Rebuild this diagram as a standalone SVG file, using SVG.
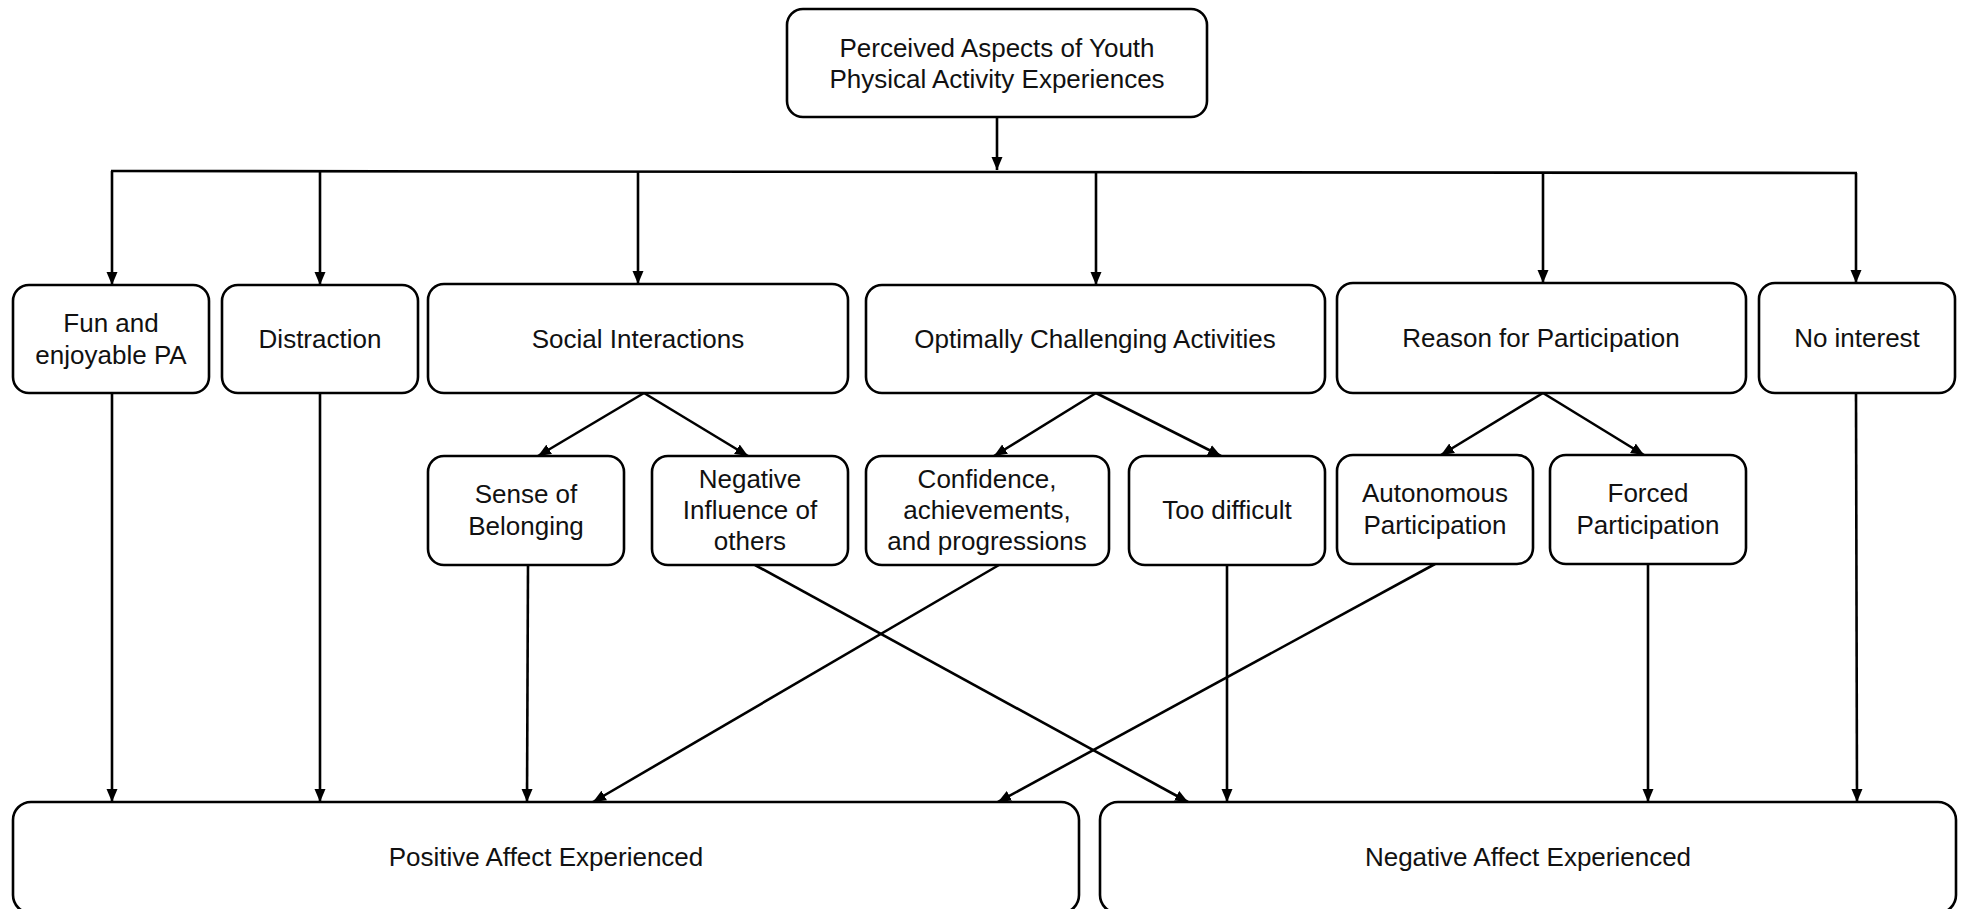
<svg xmlns="http://www.w3.org/2000/svg" width="1963" height="909" viewBox="0 0 1963 909">
<defs>
<marker id="ah" markerUnits="userSpaceOnUse" markerWidth="14" markerHeight="12" refX="13" refY="6" orient="auto">
<path d="M0,0.5 L13,6 L0,11.5 z" fill="#000"/>
</marker>
<style>
.box{fill:#fff;stroke:#000;stroke-width:2.6}
.t{font-family:"Liberation Sans",Arial,sans-serif;font-size:26px;fill:#111;text-anchor:middle}
.c{stroke:#000;stroke-width:2.6;fill:none}
.a{stroke:#000;stroke-width:2.6;fill:none;marker-end:url(#ah)}
</style>
</defs>
<rect width="1963" height="909" fill="#fff"/>
<g id="connectors">
<line class="a" x1="997" y1="117" x2="997" y2="170"/>
<line class="c" x1="111" y1="171" x2="1857" y2="173"/>
<line class="a" x1="112" y1="171" x2="112" y2="285"/>
<line class="a" x1="320" y1="171" x2="320" y2="285"/>
<line class="a" x1="638" y1="172" x2="638" y2="284"/>
<line class="a" x1="1096" y1="172" x2="1096" y2="285"/>
<line class="a" x1="1543" y1="173" x2="1543" y2="283"/>
<line class="a" x1="1856" y1="173" x2="1856" y2="283"/>
<line class="a" x1="644" y1="393" x2="538" y2="456"/>
<line class="a" x1="644" y1="393" x2="748" y2="456"/>
<line class="a" x1="1096" y1="393" x2="994" y2="456"/>
<line class="a" x1="1096" y1="393" x2="1221" y2="456"/>
<line class="a" x1="1543" y1="393" x2="1441" y2="455"/>
<line class="a" x1="1543" y1="393" x2="1644" y2="455"/>
<line class="a" x1="112" y1="393" x2="112" y2="802"/>
<line class="a" x1="320" y1="393" x2="320" y2="802"/>
<line class="a" x1="528" y1="565" x2="527" y2="802"/>
<line class="a" x1="1227" y1="565" x2="1227" y2="802"/>
<line class="a" x1="1648" y1="564" x2="1648" y2="802"/>
<line class="a" x1="1856" y1="393" x2="1857" y2="802"/>
<line class="a" x1="755" y1="565" x2="1188" y2="802"/>
<line class="a" x1="999" y1="565" x2="593" y2="802"/>
<line class="a" x1="1435" y1="564" x2="998" y2="802"/>
</g>
<g id="n-top"><rect class="box" x="787" y="9" width="420" height="108" rx="16"/><text class="t" x="997" y="57">Perceived Aspects of Youth</text><text class="t" x="997" y="88">Physical Activity Experiences</text></g>
<g id="n-fun"><rect class="box" x="13" y="285" width="196" height="108" rx="16"/><text class="t" x="111" y="332">Fun and</text><text class="t" x="111" y="364">enjoyable PA</text></g>
<g id="n-distraction"><rect class="box" x="222" y="285" width="196" height="108" rx="16"/><text class="t" x="320" y="348">Distraction</text></g>
<g id="n-social"><rect class="box" x="428" y="284" width="420" height="109" rx="16"/><text class="t" x="638" y="348">Social Interactions</text></g>
<g id="n-optimal"><rect class="box" x="866" y="285" width="459" height="108" rx="16"/><text class="t" x="1095" y="348">Optimally Challenging Activities</text></g>
<g id="n-reason"><rect class="box" x="1337" y="283" width="409" height="110" rx="16"/><text class="t" x="1541" y="347">Reason for Participation</text></g>
<g id="n-nointerest"><rect class="box" x="1759" y="283" width="196" height="110" rx="16"/><text class="t" x="1857" y="347">No interest</text></g>
<g id="n-belonging"><rect class="box" x="428" y="456" width="196" height="109" rx="16"/><text class="t" x="526" y="503">Sense of</text><text class="t" x="526" y="535">Belonging</text></g>
<g id="n-neginfluence"><rect class="box" x="652" y="456" width="196" height="109" rx="16"/><text class="t" x="750" y="488">Negative</text><text class="t" x="750" y="519">Influence of</text><text class="t" x="750" y="550">others</text></g>
<g id="n-confidence"><rect class="box" x="866" y="456" width="243" height="109" rx="16"/><text class="t" x="987" y="488">Confidence,</text><text class="t" x="987" y="519">achievements,</text><text class="t" x="987" y="550">and progressions</text></g>
<g id="n-toodifficult"><rect class="box" x="1129" y="456" width="196" height="109" rx="16"/><text class="t" x="1227" y="519">Too difficult</text></g>
<g id="n-autonomous"><rect class="box" x="1337" y="455" width="196" height="109" rx="16"/><text class="t" x="1435" y="502">Autonomous</text><text class="t" x="1435" y="534">Participation</text></g>
<g id="n-forced"><rect class="box" x="1550" y="455" width="196" height="109" rx="16"/><text class="t" x="1648" y="502">Forced</text><text class="t" x="1648" y="534">Participation</text></g>
<g id="n-positive"><rect class="box" x="13" y="802" width="1066" height="111" rx="18"/><text class="t" x="546" y="866">Positive Affect Experienced</text></g>
<g id="n-negative"><rect class="box" x="1100" y="802" width="856" height="111" rx="18"/><text class="t" x="1528" y="866">Negative Affect Experienced</text></g>
</svg>
